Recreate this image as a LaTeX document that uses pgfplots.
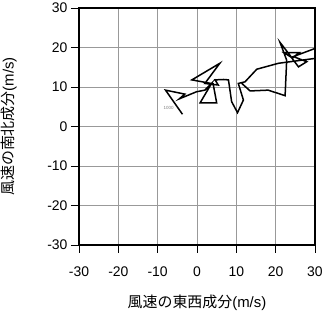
\documentclass[border=0pt]{standalone}
\usepackage{pgfplots}
\pgfplotsset{compat=1.18}
\usepackage{fontspec}
\setmainfont{Liberation Sans}
\newfontfamily\jp{Noto Sans CJK JP}
\begin{document}
\begin{tikzpicture}
\begin{axis}[
  scale only axis,
  width=236bp, height=237bp,
  xmin=-30, xmax=30, ymin=-30, ymax=30,
  xtick={-30,-20,...,30}, ytick={-30,-20,...,30},
  xtick pos=bottom, ytick pos=left,
  tick align=outside,
  major tick length=8bp,
  tick style={black, line width=0.8bp},
  grid=major,
  major grid style={gray!80, line width=0.9bp},
  axis line style={black, line width=1.8bp},
  /pgf/number format/assume math mode=true,
  ticklabel style={font=\fontsize{14}{16}\selectfont},
  xticklabel style={yshift=-10bp},
  xlabel={\jp 風速の東西成分\rmfamily(m/s)},
  ylabel={\jp 風速の南北成分\rmfamily(m/s)},
  label style={font=\fontsize{15}{17}\selectfont},
  xlabel style={at={(axis description cs:0.5,0)}, anchor=center, yshift=-58bp},
  ylabel style={at={(axis description cs:0,0.5)}, anchor=center, yshift=70bp},
  clip=true,
]
\addplot[black, line width=1.5bp, line join=miter, mark=none] coordinates {
(-3.7,3.1) (-8.0,9.2) (-3.1,8.2) (-4.5,7.0) (-0.1,8.8) (2.0,9.2) (3.7,10.9)
(0.8,6.0) (5.0,6.0) (4.1,10.8) (-1.3,11.8) (5.8,16.0) (2.0,10.9) (5.4,10.5)
(4.6,11.8) (6.7,11.9) (8.0,11.8) (8.8,6.3) (10.3,3.5) (11.8,6.7) (10.5,10.9)
(12.2,11.3) (15.2,14.5) (20.7,16.0) (32,17.5) (32,20.5) (24.5,17.7) (27.9,16.4)
(25.8,15.1) (24.0,17.5) (22.1,18.7) (26.0,18.7) (24.2,17.3) (21.1,21.3)
(22.8,16.8) (22.4,7.8) (18.1,9.2) (13.5,9.0) (11.4,10.9)
};
\node[font=\fontsize{4.5}{5}\selectfont, text=gray] at (axis cs:-7.2,4.6) {1000};
\coordinate (ll) at (rel axis cs:0,0);
\coordinate (ur) at (rel axis cs:1,1);
\end{axis}
\pgfresetboundingbox
\path ([shift={(-79bp,-68bp)}]ll) rectangle ([shift={(8bp,8bp)}]ur);
\end{tikzpicture}
\end{document}
